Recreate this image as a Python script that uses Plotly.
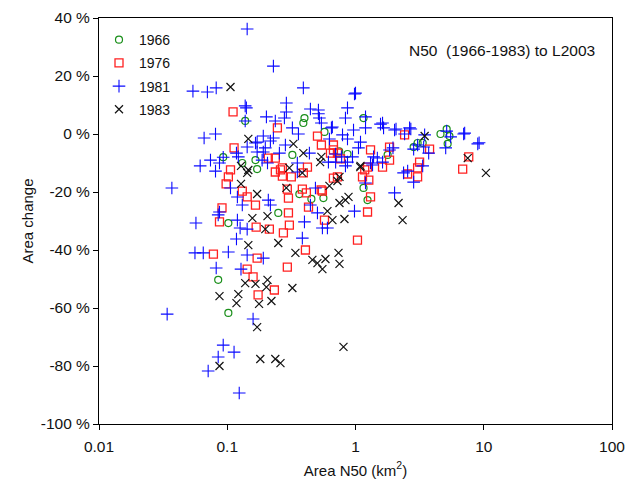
import plotly.graph_objects as go

# 1966 (green circles)
x_1966 = [0.138, 0.093, 0.131, 0.40, 0.392, 1.155, 0.573, 0.322, 0.166, 0.866,
          1.155, 0.365, 0.453, 0.562, 1.241, 4.6, 5.14, 3.05, 3.34, 5.23,
          2.84, 1.78, 0.102, 0.085, 0.102, 0.25, 0.171, 5.4, 0.746]
y_1966 = [4.5, -8.0, -10.0, 5.5, 3.8, 5.5, 0.7, -7.2, -9.0, -6.9,
          -18.6, -20.7, -22.4, -22.1, -22.8, 0.0, 1.7, -3.1, -3.1, -3.4,
          -4.5, -7.2, -30.7, -50.3, -61.7, -27.2, -12.1, -0.7, -6.0]

# 1976 (red squares)
x_1976 = [0.111, 0.113, 0.106, 0.102, 0.098, 0.131, 0.143, 0.091, 0.246, 0.505,
          0.542, 0.673, 0.673, 0.638, 0.723, 0.209, 0.237, 0.764, 1.241, 0.269,
          0.422, 0.237, 0.269, 0.316, 0.392, 0.673, 0.723, 1.134, 0.294, 0.385,
          0.552, 0.414, 0.30, 0.166, 2.414, 3.78, 1.843, 1.843, 1.31, 1.625,
          3.16, 3.05, 3.05, 2.548, 7.64, 6.85, 1.31, 0.087, 0.078, 0.143,
          0.30, 0.168, 0.213, 0.305, 0.274, 0.43, 0.573, 1.241, 0.407, 1.036,
          0.171, 0.294, 0.159, 0.233, 0.174, 0.26, 1.18, 1.27, 0.54]
y_1976 = [7.6, -4.8, -12.4, -14.8, -17.2, -19.7, -21.7, -25.5, 2.1, -0.7,
          -3.8, -3.8, -5.5, -6.6, -6.6, -8.3, -8.3, -8.6, -11.4, -11.7,
          -11.4, -13.1, -14.5, -14.8, -13.4, -15.2, -14.8, -14.8, -19.0, -19.0,
          -19.7, -20.3, -22.1, -24.5, -0.3, -5.2, -4.5, -9.0, -5.5, -11.4,
          -9.7, -11.7, -14.8, -13.8, -7.9, -12.1, -21.7, -30.3, -41.4, -46.6,
          -27.2, -32.1, -32.8, -31.4, -34.1, -25.2, -29.7, -26.9, -40.0, -36.6,
          -42.8, -45.9, -49.3, -53.8, -55.5, -12.4, -12.4, -15.9, -19.3]

# 1981 (blue crosses)
x_1981 = [0.143, 0.054, 0.070, 0.082, 0.138, 0.141, 0.138, 0.066, 0.081, 0.143,
          0.093, 0.074, 0.0615, 0.081, 0.087, 0.118, 0.122, 0.106, 0.037, 0.12,
          0.087, 0.131, 0.229, 0.392, 0.982, 0.289, 0.289, 0.445, 0.514, 0.866,
          0.835, 0.202, 0.237, 0.279, 0.523, 0.542, 1.197, 0.322, 0.359, 0.649,
          0.965, 0.191, 0.229, 0.171, 0.626, 0.792, 0.866, 0.284, 1.094, 1.055,
          0.198, 0.171, 0.255, 0.437, 0.698, 0.187, 0.206, 0.947, 0.615, 0.866,
          0.352, 0.352, 1.197, 0.487, 0.209, 0.217, 0.445, 1.567, 1.655, 2.017,
          2.641, 2.414, 3.46, 5.14, 5.52, 6.97, 3.05, 3.4, 3.72, 5.05,
          8.98, 2.84, 1.843, 1.383, 1.358, 1.625, 3.34, 2.37, 2.84, 2.017,
          0.085, 0.057, 0.12, 0.126, 0.143, 0.118, 0.056, 0.065, 0.102, 0.143,
          0.082, 0.128, 0.034, 0.093, 0.113, 0.085, 0.071, 0.124, 0.505, 0.40,
          0.552, 0.604, 0.385, 0.191, 0.159, 0.982, 0.217, 0.166, 0.191, 0.514,
          1.197, 1.0, 1.625, 2.07, 2.7, 0.66, 1.48, 1.96, 7.1, 9.2,
          1.31, 0.78, 0.70, 2.55, 0.835]
y_1981 = [36.2, 14.8, 14.5, 15.9, 9.7, 9.0, 4.5, -1.4, 0.0, -4.5,
          -8.0, -9.0, -11.0, -12.8, -10.0, -6.6, -7.9, -18.6, -18.6, -21.7,
          -26.9, -24.5, 23.4, 15.9, 13.8, 10.7, 7.6, 8.6, 8.3, 9.0,
          5.5, 5.9, 4.5, 5.5, 5.5, 3.8, 2.1, 2.1, 0.0, 2.1,
          1.4, -0.7, -1.4, -2.8, -1.7, -0.3, -1.7, -3.8, -2.8, -4.8,
          -4.8, -6.2, -6.6, -6.6, -6.9, -9.0, -10.0, -7.9, -9.7, -9.7,
          -10.0, -13.1, -16.9, -18.6, -22.8, -24.5, -24.5, 3.4, 2.1, 1.4,
          2.1, 0.0, -0.3, 1.0, -1.0, 0.0, -3.8, -4.5, -6.6, -4.8,
          -3.4, -5.2, -5.5, -7.9, -10.7, -9.7, -11.0, -13.4, -16.6, -20.3,
          -27.9, -30.7, -29.7, -32.4, -32.8, -36.2, -41.0, -41.0, -40.7, -41.7,
          -46.2, -46.6, -62.1, -72.8, -75.2, -76.9, -81.7, -89.3, -27.2, -30.3,
          -32.4, -32.4, -35.9, -42.8, -63.8, -26.6, -2.4, -3.1, -6.2, 7.0,
          5.9, 14.1, 3.8, 1.7, 1.7, 2.4, -8.3, -4.8, 0.3, -3.0,
          -10.0, -7.9, -9.7, -12.8, -11.0]

# 1983 (black x)
x_1983 = [0.106, 0.146, 0.128, 0.128, 0.328, 0.392, 0.542, 1.094, 0.305, 0.385,
          0.626, 0.723, 0.289, 0.171, 0.882, 0.835, 0.75, 3.46, 7.5, 10.4,
          2.167, 2.328, 0.146, 0.138, 0.087, 0.122, 0.118, 0.087, 0.206, 0.157,
          0.198, 0.604, 0.661, 0.82, 0.25, 0.34, 0.461, 0.505, 0.552, 0.583,
          0.737, 0.75, 0.166, 0.206, 0.202, 0.322, 0.177, 0.221, 0.171, 0.806,
          0.181, 0.237, 0.26, 0.146, 0.143, 0.53, 1.09, 0.75]
y_1983 = [16.2, -1.7, -11.0, -17.2, -3.4, -6.6, -7.9, -11.0, -11.7, -13.4,
          -17.9, -16.2, -18.6, -20.7, -21.7, -22.8, -23.8, -0.7, -8.3, -13.4,
          -23.8, -29.7, -38.3, -51.4, -55.9, -55.2, -58.3, -80.0, -28.3, -29.0,
          -32.8, -26.6, -29.7, -29.3, -37.6, -41.0, -43.4, -44.5, -46.6, -43.1,
          -41.0, -44.8, -51.7, -50.3, -52.8, -53.1, -58.6, -57.6, -66.6, -73.4,
          -77.6, -77.6, -79.0, -12.4, -13.4, -9.7, -11.4, -14.8]

y_ticks = [40, 20, 0, -20, -40, -60, -80, -100]
y_labels = ['40 %', '20 %', '0 %', '-20 %', '-40 %', '-60 %', '-80 %', '-100 %']
x_ticks = [0.01, 0.1, 1, 10, 100]
x_labels = ['0.01', '0.1', '1', '10', '100']

fig = go.Figure()
fig.add_trace(go.Scatter(x=x_1966, y=y_1966, mode='markers', name='1966', legendgroup='a',
                         marker=dict(symbol='circle-open', size=7, color='#1a8f1a',
                                     line=dict(width=1.2))))
fig.add_trace(go.Scatter(x=x_1976, y=y_1976, mode='markers', name='1976', legendgroup='b',
                         marker=dict(symbol='square-open', size=8, color='#ff2020',
                                     line=dict(width=1.3))))
fig.add_trace(go.Scatter(x=x_1981, y=y_1981, mode='markers', name='1981', legendgroup='c',
                         marker=dict(symbol='cross-thin-open', size=9, color='#0a0aff',
                                     line=dict(width=1.1, color='#0a0aff'))))
fig.add_trace(go.Scatter(x=x_1983, y=y_1983, mode='markers', name='1983', legendgroup='d',
                         marker=dict(symbol='x-thin-open', size=8, color='#111111',
                                     line=dict(width=1.2, color='#111111'))))

# page body has an 8px margin, so figure coords are shifted by 8px
fig.add_annotation(text='N50\u00a0 (1966-1983) to L2003', xref='paper', yref='paper',
                   x=0.785, y=0.92, xanchor='center', yanchor='middle', showarrow=False,
                   font=dict(size=15.5, color='#111111'))

axis_font = dict(family='Liberation Sans, Arial, sans-serif', size=15, color='#111111')
fig.update_layout(
    width=621, height=471,
    margin=dict(l=91, r=17, t=10, b=55),
    paper_bgcolor='white', plot_bgcolor='white',
    font=axis_font,
    showlegend=True,
    legend=dict(x=0.0, y=0.985, xanchor='left', yanchor='top',
                bgcolor='rgba(0,0,0,0)', font=dict(size=14),
                itemwidth=30, tracegroupgap=2),
    xaxis=dict(type='log', range=[-2, 2], tickvals=x_ticks, ticktext=x_labels,
               showgrid=False, zeroline=False, showline=True, linecolor='black',
               linewidth=1, mirror=True, ticks='outside', ticklen=5,
               tickcolor='black', ticklabelstandoff=3, automargin=False,
               tickfont=dict(size=15.5),
               title=dict(text='Area N50 (km<sup>2</sup>)', font=dict(size=15), standoff=11)),
    yaxis=dict(range=[-100, 40], tickvals=y_ticks, ticktext=y_labels,
               showgrid=False, zeroline=False, showline=True, linecolor='black',
               linewidth=1, mirror=True, ticks='outside', ticklen=5,
               tickcolor='black', automargin=False,
               tickfont=dict(size=15.5),
               title=dict(text='Area change', font=dict(size=15), standoff=3)),
)

fig.write_html('out.html')
